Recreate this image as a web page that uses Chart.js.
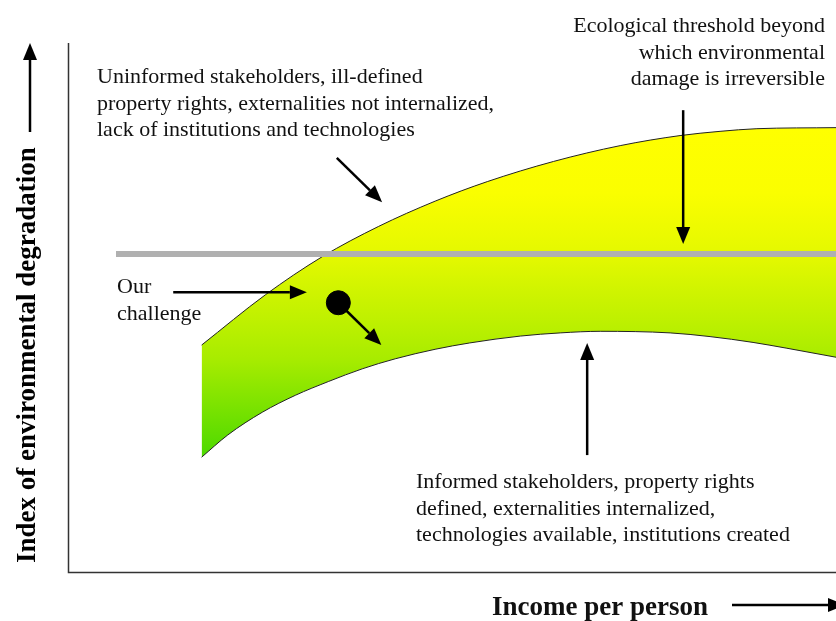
<!DOCTYPE html>
<html>
<head>
<meta charset="utf-8">
<script src="https://cdn.jsdelivr.net/npm/chart.js@4.4.0/dist/chart.umd.min.js"></script>
<style>
body { margin: 0; background: #fff; }
canvas { display: block; }
</style>
</head>
<body>
<canvas id="chart" width="836" height="621"></canvas>
<script>
// readings: income per person 0-100, degradation index 0-100
const upperX = [17.4, 25.7, 33.1, 40.4, 47.8, 54.6, 63.2, 71.9, 79.7, 84.9, 89.7, 100];
const upperY = [42.9, 52.4, 59.6, 65.3, 70.1, 73.8, 77.6, 80.6, 82.5, 83.3, 83.8, 84.0];
const lowerX = [17.4, 20.8, 25.3, 29.6, 33.9, 38.3, 42.6, 47.8, 52.3, 58.9, 64.1, 69.3, 78.4, 83.6, 89.2, 93.6, 100];
const lowerY = [21.7, 25.9, 30.2, 33.4, 36.0, 38.4, 40.3, 42.1, 43.3, 44.6, 45.2, 45.5, 45.2, 44.5, 43.4, 42.3, 40.6];
const thresholdX = [6.25, 100];
const thresholdY = [60.1, 60.1];
const nowX = [35.2];
const nowY = [50.9];
// arrows: [fromX, fromY, toX, toY]
const arrows = [
    [35.0, 78.3, 40.9, 69.9],
    [80.1, 87.3, 80.1, 62.0],
    [13.7, 52.9, 31.1, 52.9],
    [35.2, 50.9, 40.8, 42.9],
    [67.6, 22.1, 67.6, 43.3]
];

const pts = (xs, ys) => xs.map((x, i) => ({ x: x, y: ys[i] }));

// text blocks
const notes = [
    { x: 97, y: 83, align: 'left', lines: ['Uninformed stakeholders, ill-defined', 'property rights, externalities not internalized,', 'lack of institutions and technologies'] },
    { x: 825, y: 32, align: 'right', lines: ['Ecological threshold beyond', 'which environmental', 'damage is irreversible'] },
    { x: 117, y: 293, align: 'left', lines: ['Our', 'challenge'] },
    { x: 416, y: 488, align: 'left', lines: ['Informed stakeholders, property rights', 'defined, externalities internalized,', 'technologies available, institutions created'] }
];

function bandFill(ctx) {
    const chart = ctx.chart;
    if (!chart.chartArea) return '#c0f000';
    const y = chart.scales.y;
    const g = chart.ctx.createLinearGradient(0, y.getPixelForValue(84), 0, y.getPixelForValue(21.7));
    g.addColorStop(0, '#ffff00');
    g.addColorStop(0.2, '#fafe00');
    g.addColorStop(0.4, '#e2f800');
    g.addColorStop(0.7, '#a8ec00');
    g.addColorStop(1, '#4cd900');
    return g;
}

function arrow(c, x1, y1, x2, y2, lw) {
    const a = Math.atan2(y2 - y1, x2 - x1);
    const len = 17, half = 7;
    const bx = x2 - len * Math.cos(a), by = y2 - len * Math.sin(a);
    c.strokeStyle = '#000';
    c.fillStyle = '#000';
    c.lineWidth = lw || 2.5;
    c.beginPath();
    c.moveTo(x1, y1);
    c.lineTo(bx, by);
    c.stroke();
    c.beginPath();
    c.moveTo(x2, y2);
    c.lineTo(bx + half * Math.sin(a), by - half * Math.cos(a));
    c.lineTo(bx - half * Math.sin(a), by + half * Math.cos(a));
    c.closePath();
    c.fill();
}

const sketch = {
    id: 'sketch',
    afterDatasetsDraw(chart) {
        const c = chart.ctx;
        const xs = chart.scales.x, ys = chart.scales.y;
        const area = chart.chartArea;
        c.save();
        // axes
        c.strokeStyle = '#333';
        c.lineWidth = 1.5;
        c.beginPath();
        c.moveTo(area.left + 0.5, area.top);
        c.lineTo(area.left + 0.5, area.bottom + 0.5);
        c.lineTo(area.right, area.bottom + 0.5);
        c.stroke();
        arrows.forEach((a) => {
            arrow(c, xs.getPixelForValue(a[0]), ys.getPixelForValue(a[1]),
                xs.getPixelForValue(a[2]), ys.getPixelForValue(a[3]));
        });
        // notes
        c.fillStyle = '#111';
        c.font = '22px "Liberation Serif"';
        c.textBaseline = 'alphabetic';
        notes.forEach((n) => {
            c.textAlign = n.align;
            n.lines.forEach((t, i) => c.fillText(t, n.x, n.y + i * 26.5));
        });
        // axis titles
        c.font = 'bold 27px "Liberation Serif"';
        c.textAlign = 'left';
        c.fillText('Income per person', 492, 615);
        arrow(c, 732, 605, 845, 605, 2.5);
        c.save();
        c.translate(35, 563);
        c.rotate(-Math.PI / 2);
        c.fillText('Index of environmental degradation', 0, 0);
        c.restore();
        arrow(c, 30, 132, 30, 43, 2.5);
        c.restore();
    }
};

let chart1 = new Chart(document.getElementById('chart'), {
    type: 'scatter',
    data: {
        datasets: [{
            data: pts(upperX, upperY),
            showLine: true,
            borderColor: '#222',
            borderWidth: 1,
            backgroundColor: bandFill,
            fill: '+1',
            cubicInterpolationMode: 'monotone',
            pointRadius: 0,
            order: 4
        }, {
            data: pts(lowerX, lowerY),
            showLine: true,
            borderColor: '#222',
            borderWidth: 1,
            fill: false,
            cubicInterpolationMode: 'monotone',
            pointRadius: 0,
            order: 3
        }, {
            data: pts(thresholdX, thresholdY),
            showLine: true,
            borderColor: '#b0b0b0',
            borderWidth: 6,
            borderCapStyle: 'butt',
            fill: false,
            pointRadius: 0,
            order: 2
        }, {
            data: pts(nowX, nowY),
            pointRadius: 12,
            pointBackgroundColor: '#000',
            pointBorderColor: '#000',
            order: 1
        }]
    },
    options: {
        responsive: false,
        animation: false,
        layout: { autoPadding: false, padding: { left: 68, top: 43, right: 0, bottom: 49 } },
        scales: {
            x: { type: 'linear', min: 0, max: 100, display: false },
            y: { type: 'linear', min: 0, max: 100, display: false }
        },
        plugins: {
            legend: { display: false },
            tooltip: { enabled: false }
        }
    },
    plugins: [sketch]
});
</script>
</body>
</html>
